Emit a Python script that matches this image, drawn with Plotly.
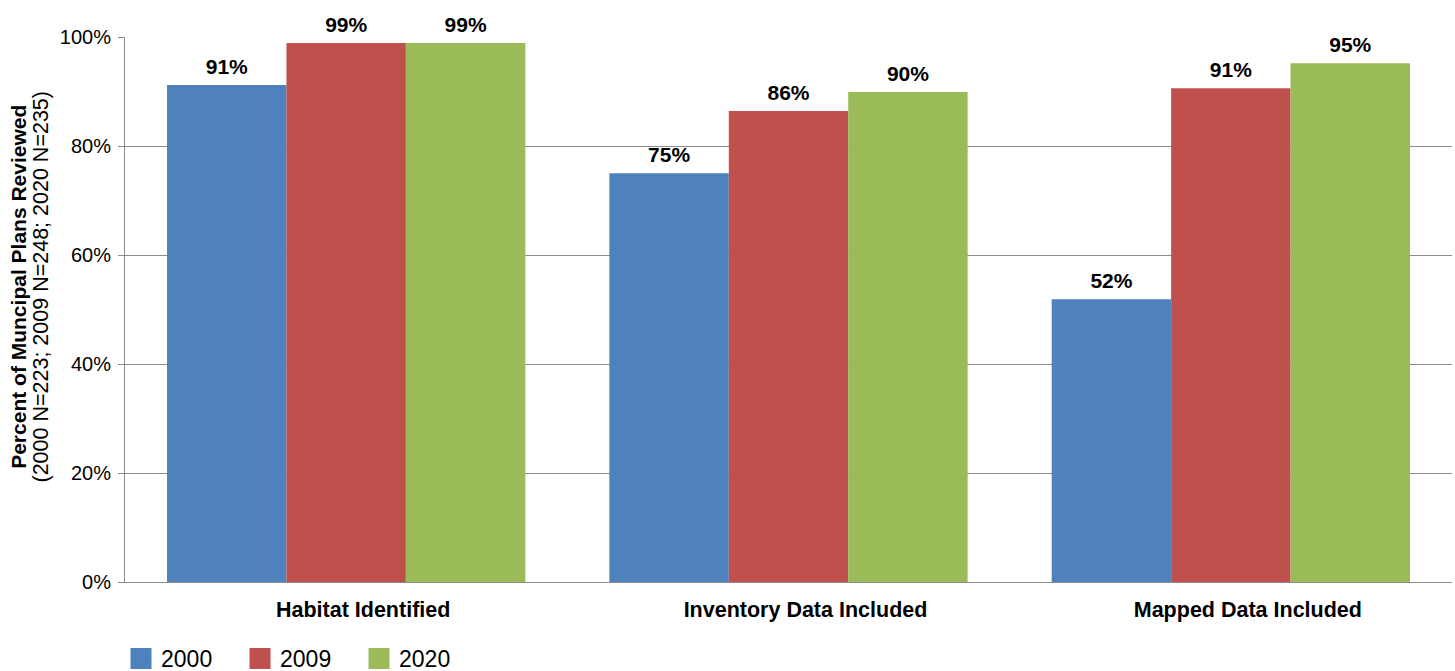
import plotly.graph_objects as go

categories = ["Habitat Identified", "Inventory Data Included", "Mapped Data Included"]
years = ["2000", "2009", "2020"]
values_2000 = [91.2, 75.0, 51.9]
values_2009 = [98.9, 86.4, 90.6]
values_2020 = [98.9, 89.9, 95.2]
colors = ["#4F81BD", "#C0504D", "#9BBB59"]
y_ticks = [0, 20, 40, 60, 80, 100]
y_tick_labels = ["0%", "20%", "40%", "60%", "80%", "100%"]

series = [values_2000, values_2009, values_2020]
FONT = "Liberation Sans, Arial, sans-serif"

fig = go.Figure()
for name, vals, col in zip(years, series, colors):
    fig.add_trace(go.Bar(
        x=categories, y=vals, name=name, offsetgroup=name,
        marker=dict(color=col, line=dict(width=0)),
        showlegend=False, hoverinfo="skip",
    ))
    # value labels sit on an invisible marker so they clear the bar top
    fig.add_trace(go.Scatter(
        x=categories, y=vals, offsetgroup=name, mode="markers+text",
        marker=dict(size=8, color="rgba(0,0,0,0)"),
        texttemplate="<b>%{y:.0f}%</b>", textposition="top center",
        textfont=dict(family=FONT, size=21, color="black"),
        cliponaxis=False, showlegend=False,
    ))
    # square swatch for the legend entry
    fig.add_trace(go.Scatter(
        x=[None], y=[None], mode="markers", name=name,
        marker=dict(symbol="square", size=16, color=col,
                    line=dict(color=col, width=5)),
    ))

title_text = (
    "<span style='font-size:21px'><b>Percent of Muncipal Plans Reviewed</b></span><br>"
    "<span style='font-size:21.5px'>(2000 N=223; 2009 N=248; 2020 N=235)</span>"
)

fig.update_layout(
    width=1455, height=671,
    margin=dict(l=125, r=3, t=37, b=89, autoexpand=False),
    paper_bgcolor="white", plot_bgcolor="white",
    barmode="group", bargap=0.19, bargroupgap=0,
    scattermode="group", scattergap=0.19,
    font=dict(family=FONT, color="black"),
    legend=dict(
        orientation="h", x=-0.003, xanchor="left", y=-0.101, yanchor="top",
        font=dict(size=23), entrywidth=74, entrywidthmode="pixels",
        itemsizing="trace", bgcolor="rgba(0,0,0,0)",
    ),
    # y-axis title, two lines, set a little above the plot's middle
    annotations=[dict(
        text=title_text, textangle=-90, showarrow=False,
        xref="paper", yref="paper", x=0, y=0.5,
        xanchor="center", yanchor="middle", xshift=-96, yshift=22,
        font=dict(family=FONT, size=17, color="black"),
    )],
)
fig.update_yaxes(
    range=[0, 100], tickmode="array", tickvals=y_ticks, ticktext=y_tick_labels,
    showgrid=True, gridcolor="#8C8C8C", gridwidth=1,
    showline=True, linecolor="#8C8C8C", linewidth=1,
    ticks="outside", ticklen=6, tickcolor="#8C8C8C",
    tickfont=dict(size=20), zeroline=False, automargin=False,
    ticklabelstandoff=3,
)
fig.update_xaxes(
    showline=True, linecolor="#8C8C8C", linewidth=1,
    ticks="", tickfont=dict(size=21.5), automargin=False,
    tickprefix="<b>", ticksuffix="</b>", ticklabelstandoff=8,
    ticklabelshift=17,
)

fig.write_html("out.html")
